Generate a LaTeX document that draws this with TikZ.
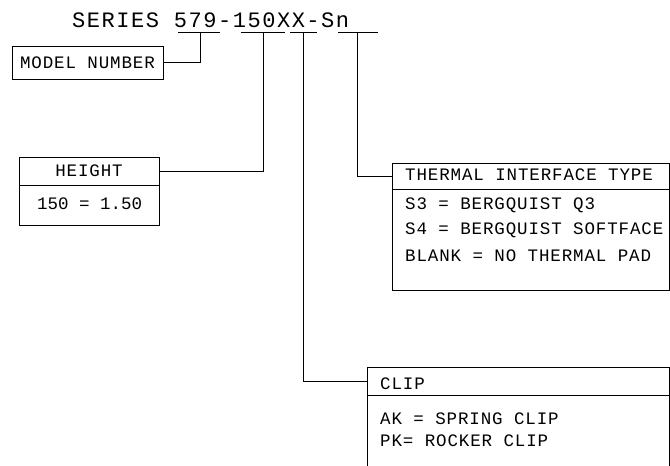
\documentclass[tikz,border=0pt]{standalone}
\usepackage{fontspec}
\newfontfamily\cadfont{Liberation Mono}[LetterSpace=5]
\newfontfamily\cadnarrow{Liberation Mono}[LetterSpace=0]
\newfontfamily\cadtitle{Liberation Mono}[LetterSpace=7]
\usepackage{tikz}
\usetikzlibrary{positioning}
\tikzset{
	box/.style={draw, line width=0.8pt, inner sep=0pt, outer sep=0pt,
			font=\cadfont\fontsize{17.5}{20}\selectfont},
	entry/.style={anchor=west, inner sep=0pt, font=\cadfont\fontsize{17.5}{20}\selectfont},
	lead/.style={line width=0.8pt}
}

\begin{document}
\begin{tikzpicture}[x=1pt, y=-1pt]
				\path[use as bounding box, clip] (0,0) rectangle (670,466);
				\node[anchor=base west, inner sep=0pt, font=\cadtitle\fontsize{22}{24}\selectfont] (series) at (72,27) {SERIES 579-150XX-Sn};

				% underlines of the part number
				\draw[lead] (178,32) -- (220,32);
				\draw[lead] (241,32) -- (285,32);
				\draw[lead] (290,32) -- (317,32);
				\draw[lead] (338,32) -- (378,32);
				\coordinate (umodel) at (200,32);
				\coordinate (uheight) at (263,32);
				\coordinate (uclip) at (303,32);
				\coordinate (utherm) at (357,32);

				\node[box, minimum width=151pt, minimum height=33pt] (model) at (87.5,62.5) {MODEL NUMBER};

				\node[box, minimum width=140pt, minimum height=28pt] (heighthead) at (89,171) {HEIGHT};
				\node[box, minimum width=140pt, minimum height=40pt, below=0pt of heighthead] (heightbody) {};
				\node[entry, font=\cadnarrow\fontsize{17.5}{20}\selectfont] (h150) at (37,204) {150 = 1.50};

				\node[box, minimum width=277pt, minimum height=26pt] (thermhead) at (530.5,176) {};
				\node[box, minimum width=277pt, minimum height=101pt, below=0pt of thermhead] (thermbody) {};
				\node[entry] (ttitle) at (405,175) {THERMAL INTERFACE TYPE};
				\node[entry] (ts3) at (405,205) {S3 = BERGQUIST Q3};
				\node[entry] (ts4) at (405,230.5) {S4 = BERGQUIST SOFTFACE};
				\node[entry] (tblank) at (405,256) {BLANK = NO THERMAL PAD};

				\node[box, minimum width=302pt, minimum height=28pt] (cliphead) at (518,381) {};
				\node[box, minimum width=302pt, minimum height=85pt, below=0pt of cliphead] (clipbody) {};
				\node[entry] (ctitle) at (380,384) {CLIP};
				\node[entry] (cak) at (380,419) {AK = SPRING CLIP};
				\node[entry] (cpk) at (380,441) {PK= ROCKER CLIP};

				\draw[lead] (umodel) |- (model.east);
				\draw[lead] (uheight) |- (heighthead.east);
				\draw[lead] (uclip) |- (cliphead.west);
				\draw[lead] (utherm) |- (thermhead.west);
			\end{tikzpicture}
\end{document}
